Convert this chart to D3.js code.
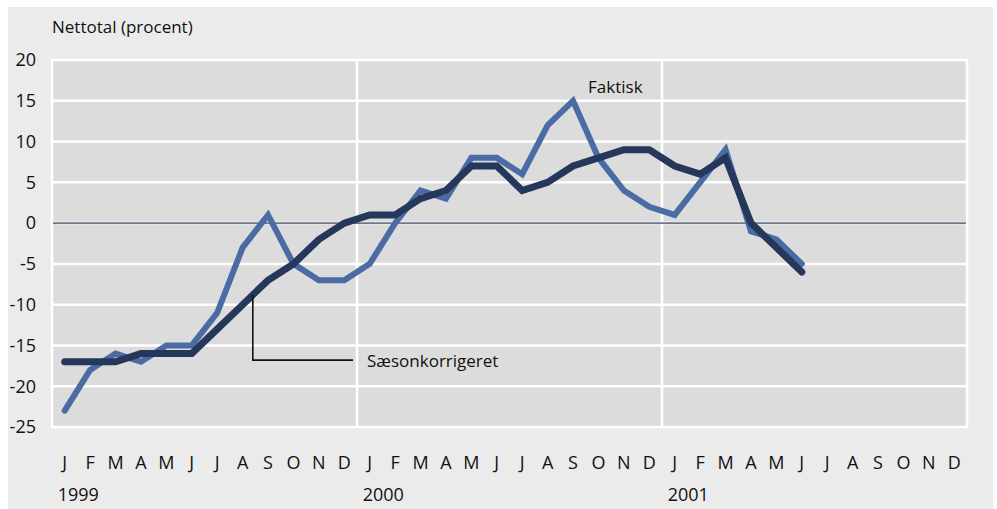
<!DOCTYPE html>
<html>
<head>
<meta charset="utf-8">
<script src="https://cdn.jsdelivr.net/npm/d3@7"></script>
<style>
  html, body { margin: 0; padding: 0; background: #ffffff; }
  svg { display: block; }
  text { font-family: "Open Sans", "Noto Sans", sans-serif; fill: #111; }
</style>
</head>
<body>
<svg id="chart" width="997" height="509"></svg>
<script>
// ---- Data ----
const months = ["J","F","M","A","M","J","J","A","S","O","N","D",
                "J","F","M","A","M","J","J","A","S","O","N","D",
                "J","F","M","A","M","J","J","A","S","O","N","D"];
const years = ["1999", "2000", "2001"];
const faktisk = [-23,-18,-16,-17,-15,-15,-11,-3,1,-5,-7,-7,
                 -5,0,4,3,8,8,6,12,15,8,4,2,
                 1,5,9,-1,-2,-5];
const saeson = [-17,-17,-17,-16,-16,-16,-13,-10,-7,-5,-2,0,
                1,1,3,4,7,7,4,5,7,8,9,9,
                7,6,8,0,-3,-6];
const yTicks = [20,15,10,5,0,-5,-10,-15,-20,-25];
const seriesNames = ["Faktisk", "Sæsonkorrigeret"];
const yTitle = "Nettotal (procent)";

// ---- Layout ----
const svg = d3.select("#chart");
const W = 997, H = 509;
const plot = {left: 52, right: 967, top: 60, bottom: 427};

svg.append("rect").attr("x", 8).attr("y", 7).attr("width", 985).attr("height", 502)
   .attr("fill", "#ebebeb");

const x = d3.scaleBand().domain(d3.range(months.length)).range([plot.left, plot.right]).padding(0);
const xc = i => x(i) + x.bandwidth() / 2;
const y = d3.scaleLinear().domain([-25, 20]).range([plot.bottom, plot.top]);

// plot background
svg.append("rect").attr("x", plot.left).attr("y", plot.top)
   .attr("width", plot.right - plot.left).attr("height", plot.bottom - plot.top)
   .attr("fill", "#dcdcdc");

// horizontal gridlines
svg.append("g").selectAll("line").data(yTicks).join("line")
   .attr("x1", plot.left - 1).attr("x2", plot.right + 1)
   .attr("y1", d => y(d)).attr("y2", d => y(d))
   .attr("stroke", "#ffffff").attr("stroke-width", 2.5);

// vertical gridlines at year boundaries and edges
const vBounds = [0, 12, 24, 36];
svg.append("g").selectAll("line").data(vBounds).join("line")
   .attr("x1", d => d < 36 ? x(d) : plot.right).attr("x2", d => d < 36 ? x(d) : plot.right)
   .attr("y1", plot.top - 1).attr("y2", plot.bottom + 1)
   .attr("stroke", "#ffffff").attr("stroke-width", 2.5);

// zero line
svg.append("line").attr("x1", plot.left + 1).attr("x2", plot.right - 1)
   .attr("y1", y(0)).attr("y2", y(0))
   .attr("stroke", "#6e7788").attr("stroke-width", 1.8);

// y tick labels
svg.append("g").selectAll("text").data(yTicks).join("text")
   .attr("x", 36).attr("y", d => y(d)).attr("dy", "0.35em")
   .attr("text-anchor", "end").attr("font-size", 18)
   .text(d => d);

// month labels
svg.append("g").selectAll("text").data(months).join("text")
   .attr("x", (d, i) => xc(i)).attr("y", 469)
   .attr("text-anchor", "middle").attr("font-size", 18)
   .text(d => d);

// year labels
svg.append("g").selectAll("text").data(years).join("text")
   .attr("x", (d, i) => xc(i * 12) - 7).attr("y", 501)
   .attr("text-anchor", "start").attr("font-size", 18)
   .text(d => d);

// title
svg.append("text").attr("x", plot.left).attr("y", 33)
   .attr("font-size", 17).text(yTitle);

// lines
const line = d3.line().x((d, i) => xc(i)).y(d => y(d));
svg.append("path").datum(faktisk).attr("d", line)
   .attr("fill", "none").attr("stroke", "#4b6ba4").attr("stroke-width", 6)
   .attr("stroke-linecap", "round").attr("stroke-linejoin", "miter");
svg.append("path").datum(saeson).attr("d", line)
   .attr("fill", "none").attr("stroke", "#25375a").attr("stroke-width", 7)
   .attr("stroke-linecap", "round").attr("stroke-linejoin", "miter");

// annotation for Sæsonkorrigeret
const t = 7.4;
const i0 = Math.floor(t), f = t - i0;
const anchorVal = saeson[i0] + (saeson[i0 + 1] - saeson[i0]) * f;
const ax = xc(i0) + f * x.bandwidth();
const ay = y(anchorVal);
const labelY = y(-16.8);
svg.append("path")
   .attr("d", `M${ax},${ay} L${ax},${labelY} L${x(12) - 4},${labelY}`)
   .attr("fill", "none").attr("stroke", "#111").attr("stroke-width", 1.6);
svg.append("text").attr("x", x(12) + 10).attr("y", labelY + 7)
   .attr("font-size", 17).text(seriesNames[1]);

// label Faktisk
svg.append("text").attr("x", xc(20) + 15).attr("y", y(16))
   .attr("font-size", 17).text(seriesNames[0]);
</script>
</body>
</html>
